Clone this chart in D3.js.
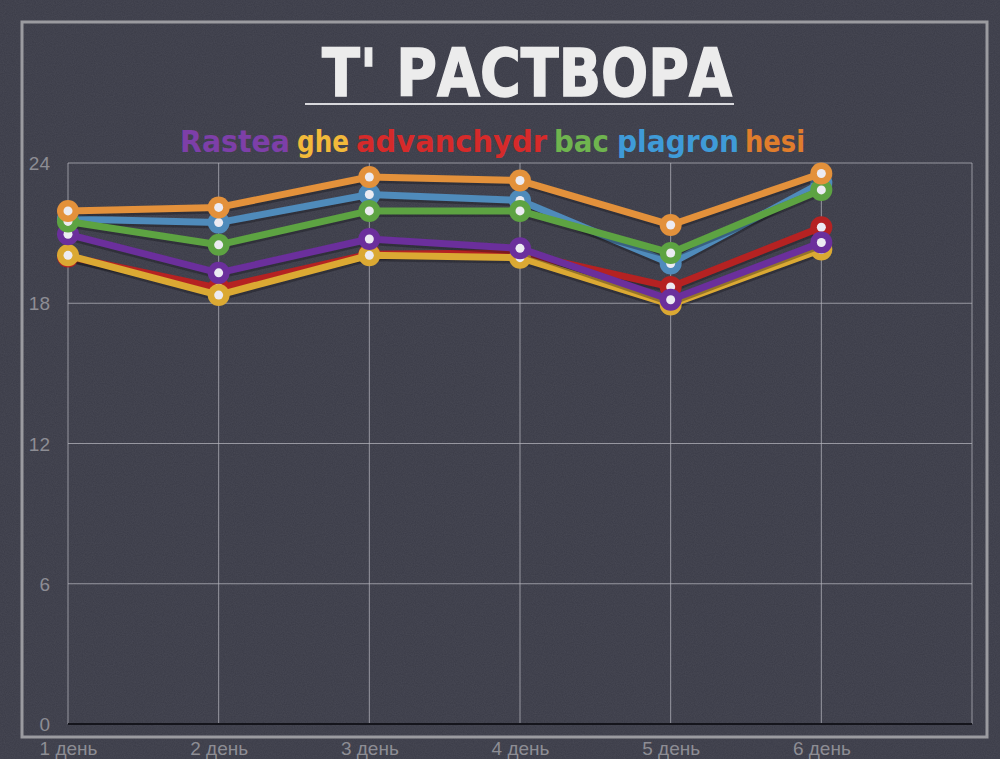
<!DOCTYPE html>
<html lang="ru">
<head>
<meta charset="UTF-8" />
<title>T' раствора</title>
<script src="https://cdn.jsdelivr.net/npm/d3@7"></script>
<style>
  * { margin: 0; padding: 0; box-sizing: border-box; }
  body { background: #3a3b47; width: 1000px; height: 759px; overflow: hidden; }
  .grid { stroke: #b4b4bc; stroke-width: 1; opacity: 0.75; }
  .tick-label { fill: #8d8d94; font-family: 'Liberation Sans', Arial, sans-serif; }
</style>
</head>
<body>
<svg id="chart" width="1000" height="759"></svg>
<script>
  // data
  const days = ['1 день', '2 день', '3 день', '4 день', '5 день', '6 день'];
  const yTicks = [0, 6, 12, 18, 24];
  const seriesNames = ['Rastea', 'ghe', 'advanchydr', 'bac', 'plagron', 'hesi'];
  const seriesColors = ['#6b2f9c', '#dba933', '#b52222', '#5da342', '#4f8bbb', '#e3913b'];
  const legendColors = ['#7d3fa8', '#f2b93a', '#d62a2a', '#6fb44f', '#3f9bd8', '#e07d2c'];

  const rastea     = [20.95, 19.3, 20.75, 20.35, 18.15, 20.6];
  const ghe        = [20.05, 18.35, 20.05, 19.95, 17.95, 20.3];
  const advanchydr = [20.0, 18.65, 20.1, 20.15, 18.7, 21.25];
  const bac        = [21.5, 20.5, 21.95, 21.95, 20.15, 22.85];
  const plagron    = [21.6, 21.45, 22.65, 22.4, 19.7, 23.15];
  const hesi       = [21.95, 22.1, 23.4, 23.25, 21.35, 23.55];

  const seriesValues = [rastea, ghe, advanchydr, bac, plagron, hesi];
  // stacking order seen in the picture (bottom first)
  const drawOrder = [2, 1, 0, 4, 3, 5];
  // legend word boxes [left, width]
  const legendBoxes = [[180, 110], [297, 52], [356, 191], [554, 55], [617, 122], [745, 60]];

  const svg = d3.select('#chart');
  const x = d3.scaleLinear().domain([0, 6]).range([68, 972]);
  const y = d3.scaleLinear().domain([0, 24]).range([724, 163]);

  // chalkboard grain
  const defs = svg.append('defs');
  const f = defs.append('filter').attr('id', 'grain');
  f.append('feTurbulence').attr('type', 'fractalNoise').attr('baseFrequency', 0.9).attr('numOctaves', 2).attr('seed', 3);
  f.append('feColorMatrix').attr('values', '0 0 0 0 0.8  0 0 0 0 0.8  0 0 0 0 0.85  0 0 0 0.08 0');
  svg.append('rect').attr('width', 1000).attr('height', 759).attr('fill', '#3a3b47');
  svg.append('rect').attr('width', 1000).attr('height', 759).attr('filter', 'url(#grain)');

  // frame
  svg.append('rect')
    .attr('x', 22).attr('y', 22).attr('width', 965).attr('height', 715)
    .attr('fill', 'none').attr('stroke', '#9b9ba0').attr('stroke-width', 3);

  // title
  svg.append('text')
    .attr('x', 527).attr('y', 96)
    .attr('text-anchor', 'middle')
    .attr('font-family', "'DejaVu Sans', sans-serif")
    .attr('font-weight', 'bold')
    .attr('font-size', 66)
    .attr('fill', '#ececec')
    .attr('stroke', '#ececec').attr('stroke-width', 1.5)
    .attr('textLength', 410)
    .attr('lengthAdjust', 'spacingAndGlyphs')
    .text("Т' РАСТВОРА");
  svg.append('line')
    .attr('x1', 305).attr('x2', 734).attr('y1', 104).attr('y2', 104)
    .attr('stroke', '#d8d8dc').attr('stroke-width', 2);

  // legend words
  svg.append('g').selectAll('text').data(seriesNames).join('text')
    .attr('x', (d, i) => legendBoxes[i][0]).attr('y', 152)
    .attr('font-family', "'DejaVu Sans', sans-serif")
    .attr('font-weight', 'bold')
    .attr('font-size', 30)
    .attr('fill', (d, i) => legendColors[i])
    .attr('textLength', (d, i) => legendBoxes[i][1])
    .attr('lengthAdjust', 'spacingAndGlyphs')
    .text(d => d);

  // grid
  svg.append('g').selectAll('line').data(yTicks.filter(t => t > 0)).join('line')
    .attr('class', 'grid')
    .attr('x1', x(0)).attr('x2', x(6))
    .attr('y1', d => y(d)).attr('y2', d => y(d));
  svg.append('g').selectAll('line').data(d3.range(7)).join('line')
    .attr('class', 'grid')
    .attr('x1', d => x(d)).attr('x2', d => x(d))
    .attr('y1', y(24)).attr('y2', y(0));
  svg.append('line')
    .attr('x1', x(0)).attr('x2', x(6)).attr('y1', y(0)).attr('y2', y(0))
    .attr('stroke', '#15151c').attr('stroke-width', 2);

  // axes (labels only)
  const yAxis = svg.append('g')
    .attr('transform', 'translate(50,0)')
    .call(d3.axisLeft(y).tickValues(yTicks).tickSize(0).tickPadding(0));
  yAxis.select('.domain').remove();
  yAxis.selectAll('text').attr('class', 'tick-label').attr('font-size', 19).attr('dy', '0.35em');

  const xAxis = svg.append('g')
    .attr('transform', 'translate(0,740)')
    .call(d3.axisBottom(x).tickValues(d3.range(days.length)).tickFormat(i => days[i]).tickSize(0).tickPadding(0));
  xAxis.select('.domain').remove();
  xAxis.selectAll('text').attr('class', 'tick-label').attr('font-size', 19).attr('dy', '0.78em');

  // series
  const line = d3.line().x((d, i) => x(i)).y(d => y(d));
  drawOrder.forEach(s => {
    const g = svg.append('g');
    const vals = seriesValues[s];
    g.append('path').datum(vals).attr('d', line)
      .attr('fill', 'none').attr('stroke', '#121218').attr('stroke-opacity', 0.35)
      .attr('stroke-width', 9).attr('transform', 'translate(0,1.5)');
    g.append('path').datum(vals).attr('d', line)
      .attr('fill', 'none').attr('stroke', seriesColors[s])
      .attr('stroke-width', 7).attr('stroke-linejoin', 'round');
    g.selectAll('circle.dot').data(vals).join('circle')
      .attr('class', 'dot')
      .attr('cx', (d, i) => x(i)).attr('cy', d => y(d)).attr('r', 11)
      .attr('fill', seriesColors[s]);
    g.selectAll('circle.core').data(vals).join('circle')
      .attr('class', 'core')
      .attr('cx', (d, i) => x(i)).attr('cy', d => y(d)).attr('r', 4.5)
      .attr('fill', '#ecebf2');
  });
</script>
</body>
</html>
